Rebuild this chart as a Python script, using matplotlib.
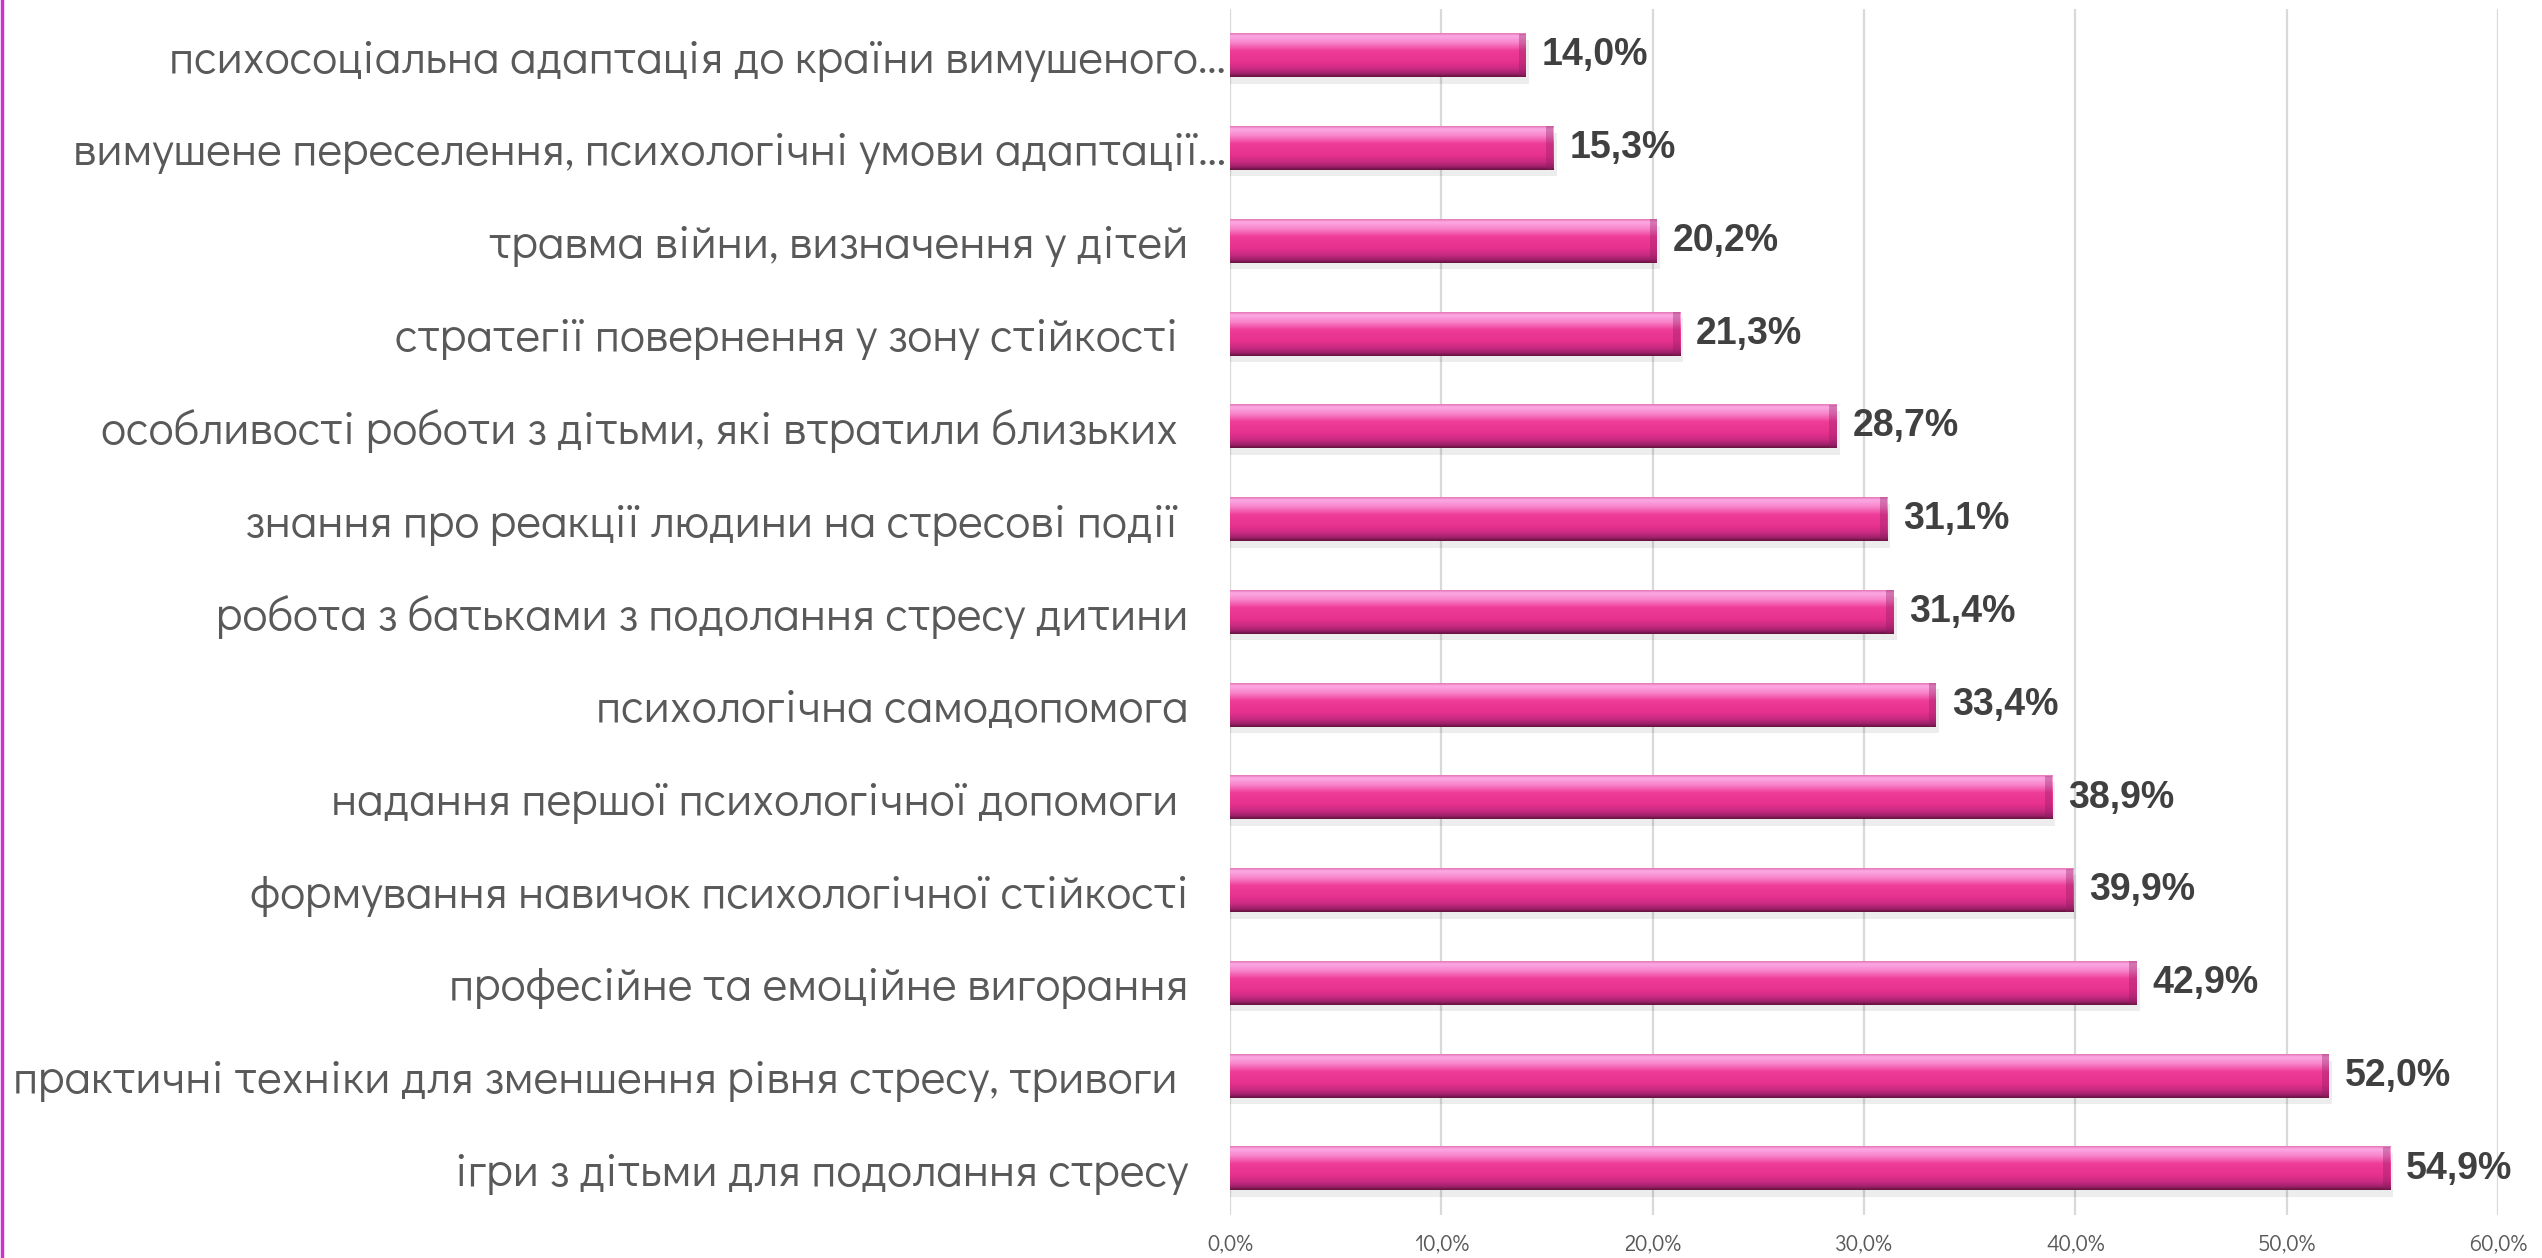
import matplotlib
matplotlib.use('Agg')
import matplotlib.pyplot as plt
import numpy as np
from matplotlib.colors import LinearSegmentedColormap
from matplotlib.lines import Line2D
from matplotlib.ticker import FuncFormatter
from matplotlib.transforms import ScaledTranslation

# top to bottom as in the chart
categories = [
    'психосоціальна адаптація до країни вимушеного…',
    'вимушене переселення, психологічні умови адаптації…',
    'травма війни, визначення у дітей',
    'стратегії повернення у зону стійкості ',
    'особливості роботи з дітьми, які втратили близьких ',
    'знання про реакції людини на стресові події ',
    'робота з батьками з подолання стресу дитини',
    'психологічна самодопомога',
    'надання першої психологічної допомоги ',
    'формування навичок психологічної стійкості',
    'професійне та емоційне вигорання',
    'практичні техніки для зменшення рівня стресу, тривоги ',
    'ігри з дітьми для подолання стресу',
]
values = [14.0, 15.3, 20.2, 21.3, 28.7, 31.1, 31.4, 33.4, 38.9, 39.9, 42.9, 52.0, 54.9]
x_ticks = [0, 10, 20, 30, 40, 50, 60]

LABEL_FONT = ['Didact Gothic', 'DejaVu Sans']
VALUE_FONT = ['Liberation Sans', 'DejaVu Sans']
BAR_H = 0.47

bar_cmap = LinearSegmentedColormap.from_list('bar', [
    (0.00, '#e77ab8'),
    (0.06, '#fca9e4'),
    (0.22, '#f883c9'),
    (0.40, '#ee3c98'),
    (0.65, '#e8328f'),
    (0.82, '#c92a82'),
    (0.93, '#9e2169'),
    (1.00, '#66123f'),
])
grad = np.linspace(0, 1, 64).reshape(-1, 1)

fig = plt.figure(figsize=(25.42, 12.58), dpi=100)
ax = fig.add_axes([0.4839, 0.0342, 0.4988, 0.9586])

ypos = np.arange(len(categories))
for y, v in zip(ypos, values):
    # soft shadow
    ax.barh(y + 0.07, v + 0.15, height=BAR_H, color='#000000', alpha=0.07, zorder=2)
    ax.imshow(grad, cmap=bar_cmap, aspect='auto', interpolation='bilinear',
              extent=(0, v, y + BAR_H / 2, y - BAR_H / 2), zorder=3)
    # darker bevel at the bar end
    ax.barh(y, 0.35, left=v - 0.35, height=BAR_H, color='#8e1d5e', alpha=0.35, zorder=4)
    ax.text(v + 0.75, y, f'{v:.1f}%'.replace('.', ','), va='center', ha='left',
            fontsize=27, fontweight='bold', color='#404040', family=VALUE_FONT)

ax.set_xlim(0, 60)
ax.set_ylim(len(categories) - 0.5, -0.5)
ax.set_xticks(x_ticks)
ax.xaxis.set_major_formatter(FuncFormatter(lambda x, _: f'{x:.1f}%'.replace('.', ',')))
ax.set_yticks(ypos)
ax.set_yticklabels(categories)
ax.grid(axis='x', color='#d9d9d9', linewidth=1.6, zorder=0)
ax.set_axisbelow(True)
for s in ax.spines.values():
    s.set_visible(False)
ax.tick_params(axis='both', length=0)
ax.tick_params(axis='y', pad=30, labelsize=34, labelcolor='#595959')
ax.tick_params(axis='x', pad=14, labelsize=16, labelcolor='#595959')
for lbl in ax.get_yticklabels() + ax.get_xticklabels():
    lbl.set_family(LABEL_FONT)
# the truncated labels run right up to the axis
for lbl in ax.get_yticklabels():
    if lbl.get_text().endswith('…'):
        lbl.set_transform(lbl.get_transform() + ScaledTranslation(0.38, 0, fig.dpi_scale_trans))

# slide border on the left
fig.add_artist(Line2D([0.0006, 0.0006], [0, 1], color='#cc33cc', linewidth=2.5))

fig.savefig('out.png', dpi=100, facecolor='white')
